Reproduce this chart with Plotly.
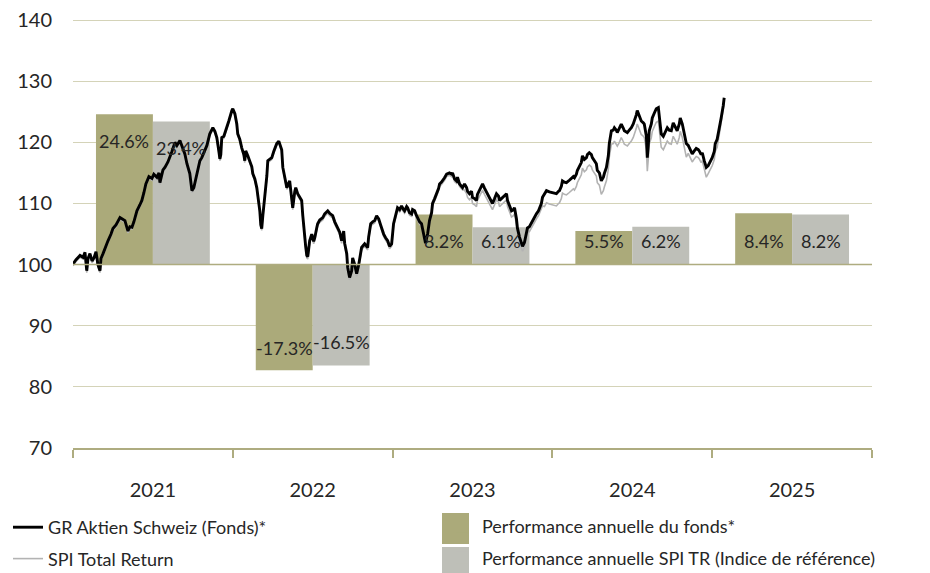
import plotly.graph_objects as go

# ---------------- data ----------------
years_cat = ["2021", "2022", "2023", "2024", "2025"]
fund_perf = [24.6, -17.3, 8.2, 5.5, 8.4]
spi_perf = [23.4, -16.5, 6.1, 6.2, 8.2]
fund_perf_labels = ["24.6%", "-17.3%", "8.2%", "5.5%", "8.4%"]
spi_perf_labels = ["23.4%", "-16.5%", "6.1%", "6.2%", "8.2%"]
# vertical positions (index level) where the % labels sit
fund_label_y = [120.3, 86.4, 103.8, 103.8, 103.9]
spi_label_y = [119.1, 87.4, 103.8, 103.8, 103.9]

# time in years since 1 Jan 2021
t_years = [
    0, .019, .044, .063, .075, .086, .094, .106, .119, .131, .144, .156, .169, .175, .188, .206, .219, .238, .25, .269,
    .281, .294, .306, .325, .338, .344, .356, .369, .381, .4, .419, .431, .444, .456, .475, .494, .506, .525, .538, .544,
    .563, .575, .594, .606, .619, .638, .65, .669, .681, .7, .713, .731, .744, .756, .763, .781, .794, .806, .825, .838,
    .856, .875, .888, .9, .913, .919, .925, .931, .944, .963, .975, .994, 1.0, 1.013, 1.025, 1.031, 1.044, 1.056, 1.069, 1.075,
    1.081, 1.094, 1.106, 1.119, 1.125, 1.138, 1.15, 1.163, 1.169, 1.175, 1.181, 1.188, 1.2, 1.213, 1.219, 1.231, 1.244, 1.256, 1.275, 1.288,
    1.294, 1.306, 1.313, 1.325, 1.338, 1.356, 1.369, 1.375, 1.388, 1.394, 1.406, 1.419, 1.431, 1.438, 1.444,
    1.456, 1.463, 1.469, 1.481, 1.488, 1.494, 1.506, 1.513, 1.525, 1.531, 1.544, 1.563, 1.575, 1.594, 1.606, 1.625, 1.638, 1.656, 1.669, 1.681,
    1.694, 1.7, 1.713, 1.719, 1.731, 1.744, 1.75, 1.763, 1.775, 1.788, 1.806, 1.825, 1.844, 1.85, 1.863, 1.875, 1.888, 1.9, 1.913, 1.925,
    1.931, 1.944, 1.956, 1.969, 1.981, 1.994, 2.006, 2.019, 2.031, 2.044, 2.056, 2.069, 2.075, 2.088, 2.094, 2.106, 2.119, 2.125, 2.138, 2.15,
    2.156, 2.169, 2.181, 2.194, 2.2, 2.206, 2.219, 2.231, 2.244, 2.25, 2.263, 2.275, 2.288, 2.294, 2.306, 2.325, 2.338, 2.356, 2.369, 2.375,
    2.388, 2.4, 2.406, 2.419, 2.431, 2.438,
    2.45, 2.463, 2.469, 2.481, 2.494, 2.5, 2.513, 2.525, 2.531, 2.544, 2.556, 2.563, 2.575, 2.588, 2.606, 2.625, 2.638, 2.65, 2.663, 2.669,
    2.681, 2.688, 2.7, 2.713, 2.719, 2.731, 2.744, 2.756, 2.763, 2.775,
    2.781, 2.794, 2.806, 2.813, 2.825, 2.838, 2.844, 2.856, 2.869, 2.881, 2.9, 2.913, 2.919, 2.931, 2.938,
    2.95, 2.963, 2.981, 2.994, 3.013, 3.025, 3.038, 3.044, 3.056, 3.063, 3.075, 3.088, 3.106, 3.119, 3.131, 3.138, 3.15, 3.156, 3.169, 3.181,
    3.188, 3.2, 3.213, 3.219, 3.231, 3.244, 3.25, 3.263, 3.275, 3.281, 3.294,
    3.306, 3.319, 3.325, 3.338, 3.35, 3.356, 3.369, 3.381, 3.388, 3.4, 3.406, 3.419, 3.431, 3.444, 3.45, 3.463, 3.469, 3.481, 3.494, 3.506,
    3.513, 3.525, 3.531, 3.544, 3.556, 3.569, 3.575, 3.588, 3.594, 3.6, 3.606, 3.619, 3.625, 3.638, 3.65, 3.663, 3.669, 3.681, 3.694, 3.7,
    3.713, 3.719, 3.731, 3.744, 3.756, 3.769, 3.781, 3.794, 3.8, 3.813, 3.825, 3.838,
    3.85, 3.856, 3.869, 3.875, 3.888, 3.9, 3.913, 3.919, 3.931, 3.938, 3.95, 3.963, 3.975, 3.981, 3.994, 4.0, 4.013, 4.019, 4.031, 4.038,
    4.05, 4.056, 4.069, 4.075,
]

fund_idx = [
    100.1, 100.8, 101.5, 101.2, 102.0, 99.0, 101.0, 101.8, 100.6, 101.1, 102.1, 100.0, 99.0, 101.0, 101.8, 103.2, 103.9, 105.0, 105.9, 106.5,
    107.0, 107.7, 107.5, 107.2, 106.0, 105.5, 106.2, 106.1, 107.0, 108.8, 109.8, 110.5, 111.8, 113.2, 114.4, 114.1, 114.8, 114.3, 115.0, 113.4,
    115.5, 115.9, 116.8, 117.8, 118.5, 120.0, 119.5, 120.3, 119.5, 118.1, 116.5, 114.9, 112.1, 112.6, 113.4, 115.5, 117.0, 117.5, 118.6, 119.5,
    121.4, 122.4, 121.8, 120.8, 118.5, 117.3, 118.0, 120.8, 121.0, 122.4, 123.5, 125.2, 125.5, 124.7, 123.0, 121.4, 120.5, 119.1, 118.0, 117.0,
    118.6, 117.8, 117.0, 116.0, 114.9, 114.0, 112.6, 110.5, 108.8, 106.5, 105.9, 108.0, 111.0, 114.5, 117.0, 117.2, 117.5, 118.5, 119.8, 120.2,
    119.8, 118.8, 115.9, 114.0, 112.6, 113.7, 111.0, 109.3, 112.0, 112.6, 111.6, 111.0, 110.5, 108.0, 106.0,
    103.0, 101.5, 101.3, 103.9, 104.5, 105.0, 103.8, 104.4, 106.0, 106.7, 107.3, 107.7, 108.3, 108.8, 108.4, 108.0, 107.0, 106.0, 105.3, 103.9,
    105.5, 103.5, 101.8, 99.5, 97.9, 99.0, 101.1, 100.0, 98.5, 100.0, 102.8, 103.4, 102.8, 104.5, 106.7, 107.0, 107.2, 108.0, 107.5, 106.5,
    106.0, 105.0, 104.4, 103.9, 103.0, 103.4, 106.7, 108.0, 109.3, 109.0, 109.6, 109.0, 108.8, 109.5, 109.3, 108.5, 108.3, 109.0, 108.8, 108.0,
    107.7, 107.0, 106.7, 105.0, 103.9, 103.5, 105.0, 107.2, 108.5, 110.0, 110.8, 111.6, 112.5, 113.2, 113.5, 114.2, 114.8, 115.0, 114.8, 115.0,
    114.0, 113.7, 114.3, 113.2, 112.8, 112.6,
    113.2, 112.6, 112.0, 111.6, 112.0, 111.0, 110.8, 110.5, 111.5, 112.1, 112.8, 113.2, 112.5, 111.8, 111.0, 110.0, 110.8, 111.6, 111.2, 110.5,
    110.8, 111.0, 111.2, 111.6, 110.5, 109.5, 108.8, 109.0, 109.3, 107.5,
    106.0, 104.5, 103.4, 103.0, 103.6, 105.0, 106.0, 106.2, 106.9, 107.5, 108.3, 108.8, 109.2, 110.0, 111.0,
    111.5, 112.1, 111.9, 111.8, 111.7, 111.6, 112.0, 112.1, 112.8, 113.7, 113.5, 113.4, 113.8, 114.2, 114.4, 114.2, 114.8, 115.4, 116.0, 116.7,
    117.8, 117.2, 117.5, 118.0, 118.3, 118.0, 117.5, 117.0, 116.5, 115.4, 115.0,
    113.7, 114.3, 114.9, 115.9, 117.8, 119.8, 121.9, 122.0, 122.4, 122.0, 121.6, 122.2, 123.0, 122.3, 121.9, 121.7, 121.6, 122.0, 122.4, 123.0,
    123.5, 124.5, 125.2, 124.3, 123.5, 123.2, 123.0, 121.0, 117.5, 119.5, 121.9, 123.0, 124.0, 124.8, 125.5, 125.7, 124.0, 121.4, 121.0, 121.4,
    122.0, 122.4, 122.0, 121.9, 123.2, 122.5, 121.9, 123.0, 124.0, 123.0, 121.5, 119.8,
    119.5, 119.1, 118.5, 118.1, 118.6, 119.0, 118.8, 118.6, 118.0, 118.3, 117.0, 115.9, 116.2, 116.5, 117.0, 117.5, 118.5, 119.8, 120.5, 121.4,
    123.0, 124.0, 126.0, 127.3,
]

spi_idx = [
    99.8, 100.5, 101.2, 100.9, 101.7, 98.7, 100.7, 101.5, 100.3, 100.8, 101.8, 99.7, 98.7, 100.7, 101.5, 102.9, 103.6, 104.7, 105.6, 106.2,
    106.7, 107.4, 107.2, 106.9, 105.7, 105.2, 105.9, 105.8, 106.7, 108.5, 109.5, 110.2, 111.5, 112.9, 114.1, 113.8, 114.5, 114.0, 114.7, 113.1,
    115.2, 115.6, 116.5, 117.5, 118.2, 119.7, 119.2, 120.0, 119.2, 117.8, 116.2, 114.6, 111.8, 112.3, 113.1, 115.2, 116.7, 117.2, 118.3, 119.2,
    121.1, 122.1, 121.5, 120.5, 118.2, 117.0, 117.7, 120.5, 120.7, 122.1, 123.2, 124.9, 125.2, 124.4, 122.7, 121.1, 120.2, 118.8, 117.7, 116.7,
    118.3, 117.5, 116.7, 115.7, 114.6, 113.7, 112.3, 110.2, 108.5, 106.2, 105.6, 107.7, 110.7, 114.2, 116.7, 116.9, 117.2, 118.2, 119.5, 119.9,
    119.5, 118.5, 115.6, 113.7, 112.3, 113.4, 110.7, 109.0, 111.7, 112.3, 111.3, 110.7, 110.2, 107.7, 105.7,
    102.6, 101.1, 100.9, 103.5, 104.1, 104.6, 103.4, 104.0, 105.6, 106.3, 106.9, 107.3, 107.9, 108.4, 108.0, 107.6, 106.6, 105.6, 104.9, 103.5,
    105.1, 103.1, 101.4, 99.1, 97.5, 98.6, 100.7, 99.6, 98.1, 99.6, 102.4, 103.0, 102.4, 104.1, 106.3, 106.6, 106.8, 107.6, 107.1, 106.1,
    105.6, 104.6, 104.0, 103.5, 102.6, 103.0, 106.3, 107.6, 108.9, 108.6, 109.2, 108.6, 108.4, 109.1, 108.9, 108.1, 107.9, 108.6, 108.4, 107.6,
    107.3, 106.6, 106.3, 104.6, 103.5, 103.1, 104.6, 106.8, 108.1, 109.6, 110.4, 111.2, 112.1, 112.8, 113.1, 113.8, 114.4, 114.6, 114.4, 114.6,
    113.6, 113.3, 113.9, 112.8, 112.4, 112.2,
    112.2, 111.6, 111.0, 110.6, 111.0, 110.0, 109.8, 109.5, 110.5, 111.1, 111.8, 112.2, 111.5, 110.8, 110.0, 109.0, 109.8, 110.6, 110.2, 109.5,
    109.8, 110.0, 110.2, 110.6, 109.5, 108.5, 107.8, 108.0, 108.3, 106.5,
    105.2, 103.7, 102.6, 102.2, 102.8, 104.2, 105.2, 105.4, 106.1, 106.7, 107.5, 108.0, 108.4, 109.0, 109.6,
    109.5, 110.1, 109.9, 109.8, 109.7, 109.6, 110.0, 110.1, 110.8, 111.7, 111.5, 111.4, 111.8, 112.2, 112.4, 112.2, 112.8, 113.4, 114.0, 114.7,
    115.8, 115.2, 115.5, 116.0, 116.3, 116.0, 115.5, 115.0, 114.5, 113.4, 113.0,
    111.5, 112.1, 112.7, 113.7, 115.6, 117.6, 119.7, 119.8, 120.2, 119.8, 119.4, 120.0, 120.8, 120.1, 119.7, 119.5, 119.4, 119.8, 120.2, 120.8,
    121.3, 122.3, 123.0, 122.1, 121.3, 121.0, 120.8, 118.8, 115.3, 117.3, 119.7, 120.8, 121.8, 122.6, 123.3, 123.5, 121.8, 119.2, 118.8, 119.2,
    119.8, 120.2, 119.8, 119.7, 121.0, 120.3, 119.7, 120.8, 121.8, 120.8, 119.3, 117.6,
    118.2, 117.8, 117.2, 116.8, 117.3, 117.7, 117.5, 117.3, 116.7, 117.0, 115.7, 114.3, 114.9, 115.2, 115.7, 116.2, 117.2, 118.5, 119.2, 120.1,
    122.2, 123.2, 125.2, 126.5,
]

if not (len(t_years) == len(fund_idx) == len(spi_idx)):
    raise ValueError(f"length mismatch {len(t_years)} {len(fund_idx)} {len(spi_idx)}")

# ---------------- style ----------------
FONT = "Lato"
TXT = "#262626"
OLIVE = "#abaa7a"
GREYBAR = "#bebfb8"
GRID = "#d4d3b8"
AXIS = "#aeac80"
W, H = 930, 573
OFF = 8  # page body margin offsets the figure in the window
ML, MR, MT, MB = 65, 66, 6, 133
PW = W - ML - MR
PH = H - MT - MB


def paper_y(win_py):
    return (H - MB - (win_py - OFF)) / PH


def paper_x(win_px):
    return ((win_px - OFF) - ML) / PW


fig = go.Figure()

fig.add_trace(go.Bar(
    x=years_cat, y=fund_perf, base=100, name="Performance annuelle du fonds*",
    marker=dict(color=OLIVE, line=dict(width=0)), legend="legend2", legendgroup="b1",
    xaxis="x", yaxis="y",
))
fig.add_trace(go.Bar(
    x=years_cat, y=spi_perf, base=100, name="Performance annuelle SPI TR (Indice de référence)",
    marker=dict(color=GREYBAR, line=dict(width=0)), legend="legend2", legendgroup="b2",
    xaxis="x", yaxis="y",
))
fig.add_trace(go.Scatter(
    x=t_years, y=spi_idx, mode="lines", name="SPI Total Return",
    line=dict(color="#b3b3b3", width=1.6), xaxis="x2", yaxis="y",
    legend="legend", legendgroup="l2", legendrank=2,
))
fig.add_trace(go.Scatter(
    x=t_years, y=fund_idx, mode="lines", name="GR Aktien Schweiz (Fonds)*",
    line=dict(color="#000000", width=2.9), xaxis="x2", yaxis="y",
    legend="legend", legendgroup="l1", legendrank=1,
))

annotations = []
for i, (ly, lab) in enumerate(zip(fund_label_y, fund_perf_labels)):
    annotations.append(dict(x=i + 0.5, y=ly, xref="x2", yref="y", text=lab, showarrow=False,
                            xshift=-28.5, font=dict(family=FONT, size=18, color=TXT)))
for i, (ly, lab) in enumerate(zip(spi_label_y, spi_perf_labels)):
    annotations.append(dict(x=i + 0.5, y=ly, xref="x2", yref="y", text=lab, showarrow=False,
                            xshift=28.5, font=dict(family=FONT, size=18, color=TXT)))

# large legend swatches (behind the legend's own small swatches)
shapes = [
    dict(type="line", xref="x domain", yref="y", x0=0, x1=1, y0=100, y1=100,
         line=dict(color=AXIS, width=1.5), layer="above"),
    dict(type="rect", xref="paper", yref="paper", x0=paper_x(442), x1=paper_x(469),
         y0=paper_y(544), y1=paper_y(513), fillcolor=OLIVE, line=dict(width=0), layer="above"),
    dict(type="rect", xref="paper", yref="paper", x0=paper_x(442), x1=paper_x(469),
         y0=paper_y(576), y1=paper_y(547), fillcolor=GREYBAR, line=dict(width=0), layer="above"),
]

fig.update_layout(
    width=W, height=H,
    margin=dict(l=ML, r=MR, t=MT, b=MB, autoexpand=False),
    paper_bgcolor="white", plot_bgcolor="white",
    font=dict(family=FONT, size=18, color=TXT),
    barmode="group", bargap=0.2875, bargroupgap=0,
    xaxis=dict(
        type="category", categoryorder="array", categoryarray=years_cat,
        range=[-0.5, 4.5], showgrid=False, showline=True, linecolor=AXIS, linewidth=1.5,
        ticks="outside", tickson="boundaries", ticklen=8, tickcolor=AXIS, tickwidth=1.5,
        tickfont=dict(family=FONT, size=20, color=TXT), ticklabelstandoff=23,
        fixedrange=True, automargin=False,
    ),
    xaxis2=dict(overlaying="x", range=[0, 5], visible=False, fixedrange=True, automargin=False),
    yaxis=dict(
        range=[70, 141], dtick=10, tick0=70, showgrid=True, gridcolor=GRID, gridwidth=1.3,
        zeroline=False, showline=False, ticks="", tickfont=dict(family=FONT, size=20, color=TXT),
        ticklabelstandoff=20, fixedrange=True, automargin=False, ticklabeloverflow="allow",
    ),
    shapes=shapes,
    annotations=annotations,
    legend=dict(
        xref="container", yref="container",
        x=0, y=1 - (509 - OFF) / H, xanchor="left", yanchor="top", orientation="v",
        font=dict(family=FONT, size=18, color=TXT), tracegroupgap=5,
        bgcolor="rgba(0,0,0,0)", itemwidth=30,
    ),
    legend2=dict(
        xref="container", yref="container",
        x=(442 - OFF) / W, y=1 - (508 - OFF) / H, xanchor="left", yanchor="top", orientation="v",
        font=dict(family=FONT, size=18, color=TXT), tracegroupgap=5,
        bgcolor="rgba(0,0,0,0)", itemwidth=30,
    ),
    showlegend=True,
)

fig.write_html("out.html")
